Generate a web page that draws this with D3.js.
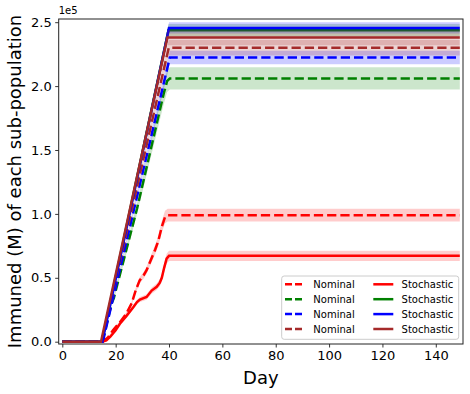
<!DOCTYPE html>
<html>
<head>
<meta charset="utf-8">
<script src="https://d3js.org/d3.v7.min.js"></script>
<style>
body { margin: 0; background: #fff; }
text { font-family: "DejaVu Sans", sans-serif; }
</style>
</head>
<body>
<svg id="chart" width="470" height="394"></svg>
<script>
// values in units of 1e5 people, [day, value]
var redNominal = [[0,0],[15,0],[17,0.03],[19,0.09],[21.5,0.15],[24,0.22],[26,0.30],[27.5,0.40],[29,0.48],[30.5,0.52],[31.6,0.56],[33,0.63],[34.8,0.72],[36,0.79],[37.3,0.90],[38.5,0.975],[39.5,0.99],[149,0.99]];
var greenNominal = [[0,0],[15,0],[18.5,0.30],[19.3,0.34],[28,1.04],[38,1.94],[39.3,2.04],[40.3,2.06],[149,2.06]];
var blueNominal = [[0,0],[15.2,0],[40.3,2.224],[149,2.224]];
var brownNominal = [[0,0],[14.8,0],[39.9,2.30],[149,2.30]];
var redStochastic = [[0,0],[15,0],[16.5,0.01],[18,0.04],[20,0.09],[21.6,0.14],[24,0.20],[26.6,0.27],[28,0.31],[29.1,0.33],[31.6,0.35],[33.5,0.40],[35.4,0.43],[36.5,0.46],[37.3,0.50],[38.2,0.58],[39.1,0.65],[40,0.672],[149,0.672]];
var greenStochastic = [[0,0],[14.8,0],[39.8,2.437],[149,2.437]];
var blueStochastic = [[0,0],[15,0],[40,2.455],[149,2.455]];
var brownStochastic = [[0,0],[14.5,0],[39.4,2.38],[149,2.38]];

// relative half-width of the shaded band of each run
var bandNominal = [0.05, 0.042, 0.024, 0.026];
var bandStochastic = [0.06, 0.02, 0.018, 0.025];

var colors = ["red", "green", "blue", "brown"];
var xTicks = [0, 20, 40, 60, 80, 100, 120, 140];
var yTicks = [0, 0.5, 1.0, 1.5, 2.0, 2.5];

var padL = 58.7, padR = 463, padT = 19, padB = 344;

var svg = d3.select("#chart");
var xs = d3.scaleLinear().domain([-1.35, 150.2]).range([padL, padR]);
var ys = d3.scaleLinear().domain([-0.018, 2.525]).range([padB, padT]);

svg.append("clipPath").attr("id", "clip")
  .append("rect").attr("x", padL).attr("y", padT)
  .attr("width", padR - padL).attr("height", padB - padT);

var plot = svg.append("g").attr("clip-path", "url(#clip)");

var line = d3.line().x(d => xs(d[0])).y(d => ys(d[1]));
var area = d3.area().x(d => xs(d[0]))
  .y0(d => ys(d[1] * (1 - d.band))).y1(d => ys(d[1] * (1 + d.band)));

var series = [];
[redNominal, greenNominal, blueNominal, brownNominal].forEach(function(s, i) {
  series.push({data: s, color: colors[i], band: bandNominal[i], dashed: true});
});
[redStochastic, greenStochastic, blueStochastic, brownStochastic].forEach(function(s, i) {
  series.push({data: s, color: colors[i], band: bandStochastic[i], dashed: false});
});

series.forEach(function(s) {
  var pts = s.data.map(function(d) { var p = [d[0], d[1]]; p.band = s.band; return p; });
  plot.append("path").attr("d", area(pts))
    .attr("fill", s.color).attr("fill-opacity", 0.2).attr("stroke", "none");
  plot.append("path").attr("d", line(s.data))
    .attr("fill", "none").attr("stroke", s.color).attr("stroke-width", 2.5)
    .attr("stroke-dasharray", s.dashed ? "9.25,4" : null);
});

// axes
var gx = svg.append("g").attr("transform", "translate(0," + padB + ")")
  .call(d3.axisBottom(xs).tickValues(xTicks).tickSize(3.5).tickPadding(3.5).tickFormat(d3.format("d")));
var gy = svg.append("g").attr("transform", "translate(" + padL + ",0)")
  .call(d3.axisLeft(ys).tickValues(yTicks).tickSize(3.5).tickPadding(3.5).tickFormat(d3.format(".1f")));
[gx, gy].forEach(function(g) {
  g.select(".domain").remove();
  g.selectAll("text").style("font-size", "13px").style("font-family", "DejaVu Sans").attr("fill", "#000");
  g.selectAll("line").attr("stroke", "#000").attr("stroke-width", 0.8);
});

svg.append("rect").attr("x", padL).attr("y", padT)
  .attr("width", padR - padL).attr("height", padB - padT)
  .attr("fill", "none").attr("stroke", "#222").attr("stroke-width", 1);

svg.append("text").attr("x", padL).attr("y", 14)
  .style("font-size", "10px").text("1e5");

svg.append("text").attr("x", (padL + padR) / 2).attr("y", 384)
  .attr("text-anchor", "middle").style("font-size", "18px").text("Day");

svg.append("text")
  .attr("transform", "translate(21," + (padT + padB) / 2 + ") rotate(-90)")
  .attr("text-anchor", "middle").style("font-size", "18px")
  .text("Immuned (M) of each sub-population");

// legend
var lg = svg.append("g");
lg.append("rect").attr("x", 281.7).attr("y", 276).attr("width", 177).attr("height", 63.3)
  .attr("rx", 2.5).attr("fill", "#fff").attr("fill-opacity", 0.8)
  .attr("stroke", "#ccc").attr("stroke-width", 1);
series.forEach(function(s, i) {
  var col = i < 4 ? 0 : 1, row = i % 4;
  var x0 = col === 0 ? 285 : 373.3;
  var yy = 284.3 + row * 14.9;
  lg.append("line").attr("x1", x0).attr("x2", x0 + 20).attr("y1", yy).attr("y2", yy)
    .attr("stroke", s.color).attr("stroke-width", 2.5)
    .attr("stroke-dasharray", s.dashed ? "7,3" : null);
  lg.append("text").attr("x", x0 + 28.3).attr("y", yy + 3.6)
    .style("font-size", "10px").text(s.dashed ? "Nominal" : "Stochastic");
});
</script>
</body>
</html>
